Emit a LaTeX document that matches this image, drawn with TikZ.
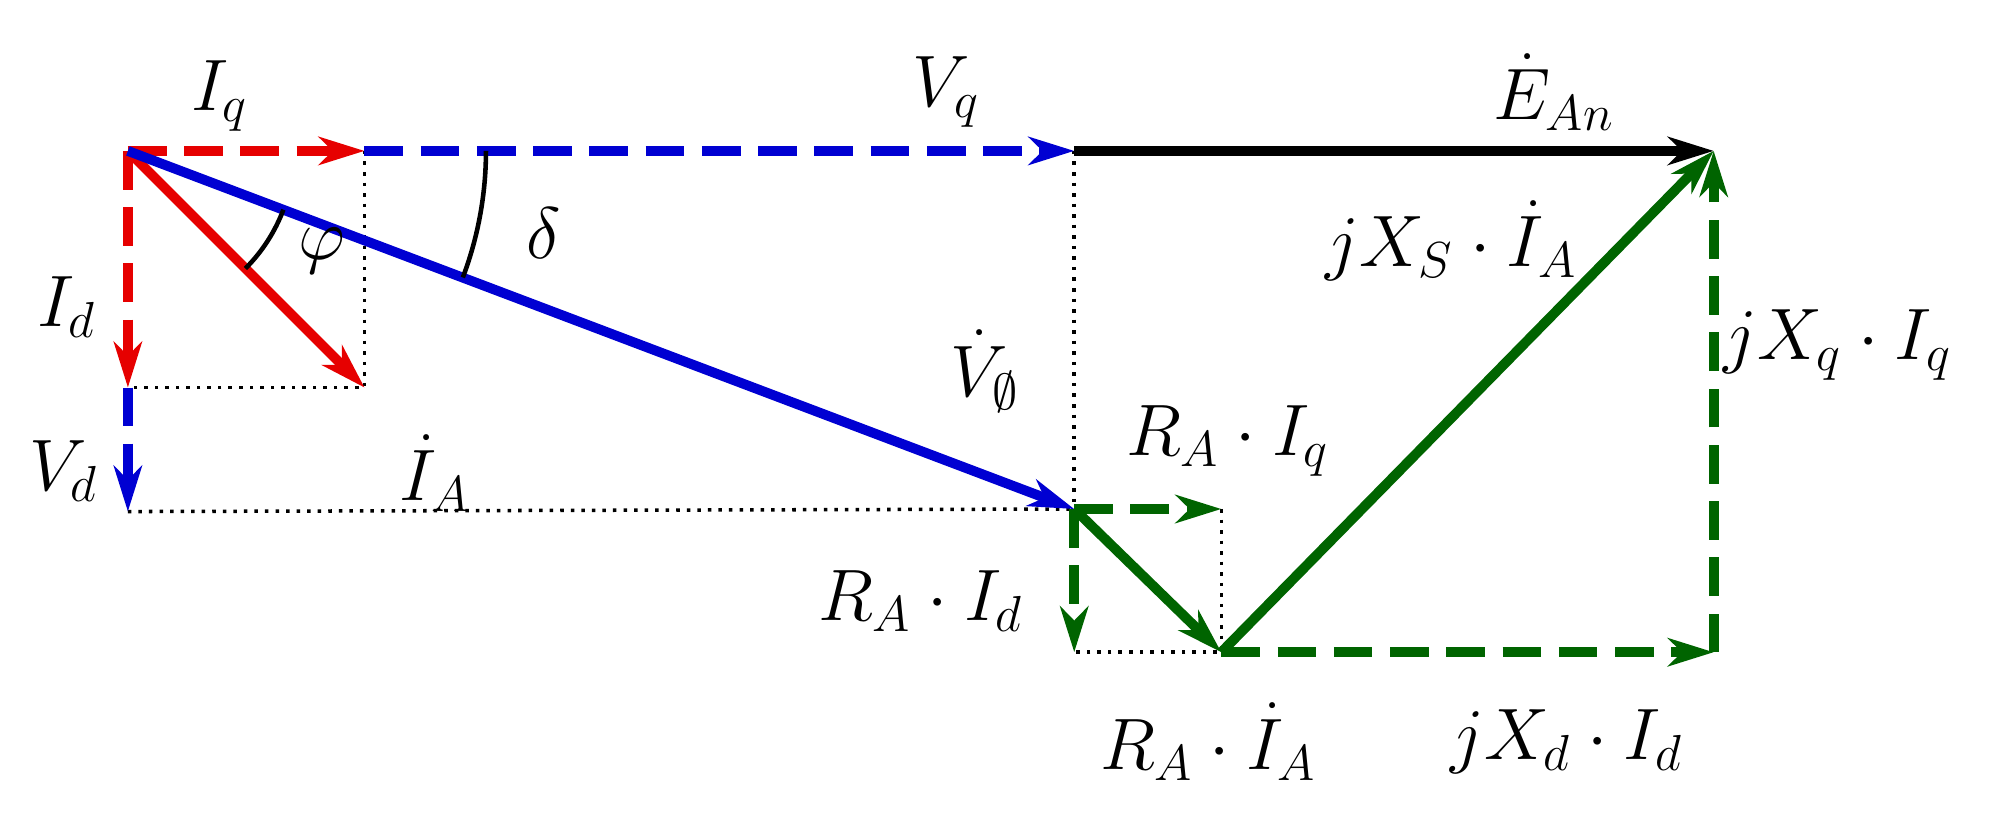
\documentclass[tikz,border=0pt]{standalone}
\usetikzlibrary{arrows.meta,calc}
\definecolor{cred}{RGB}{230,0,0}
\definecolor{cblue}{RGB}{0,0,210}
\definecolor{cgreen}{RGB}{0,100,0}
\tikzset{vec/.style={line width=2.8pt,-{Stealth[length=13pt,width=8pt,inset=4pt]}},
dvec/.style={vec,dash pattern=on 11pt off 5pt},
dot/.style={dotted,line width=1pt},
lbl/.style={font=\fontsize{21.5}{25}\selectfont}}
\begin{document}
\begin{tikzpicture}[x=0.01279cm,y=-0.01279cm]
\useasboundingbox (0,0) rectangle (1560,638);
\coordinate (O) at (100,118);
\coordinate (Iq) at (285,118);
\coordinate (Vq) at (840,118);
\coordinate (E) at (1340,118);
\coordinate (Id) at (100,303);
\coordinate (Vd) at (100,400);
\coordinate (IA) at (285,303);
\coordinate (V) at (840,398);
\coordinate (RIq) at (955,398);
\coordinate (RId) at (840,510);
\coordinate (RIA) at (955,510);
\coordinate (XdId) at (1340,510);
% dotted
\draw[dot] (Iq)--(IA)--(Id);
\draw[dot] (Vd)--(V);
\draw[dot] (Vq)--(V);
\draw[dot] (RIq)--(RIA)--(RId);
% vectors
\draw[dvec,cblue] (Iq)--(Vq);
\draw[dvec,cblue] (Id)--(Vd);
\draw[dvec,cred] (O)--(Iq);
\draw[dvec,cred] (O)--(Id);
\draw[vec,cred] (O)--(IA);
\draw[vec,cblue] (O)--(V);
\draw[vec,black] (Vq)--(E);
\draw[dvec,cgreen] (V)--(RIq);
\draw[dvec,cgreen] (V)--(RId);
\draw[vec,cgreen] (V)--(RIA);
\draw[dvec,cgreen] (RIA)--(XdId);
\draw[dvec,cgreen] (XdId)--(E);
\draw[vec,cgreen] (RIA)--(E);
% angles
\draw[line width=1.3pt] ($(O)+(45:130)$) arc[start angle=45,end angle=20.7,radius=130];
\draw[line width=1.3pt] ($(O)+(0:280)$) arc[start angle=0,end angle=20.7,radius=280];
% labels
\node[lbl] (tIq) at (172,75) {$I_q$};
\node[lbl] (tVq) at (740,72) {$V_q$};
\node[lbl] (tE) at (1215,72) {$\dot E_{An}$};
\node[lbl] (tId) at (52,240) {$I_d$};
\node[lbl] (tVd) at (50,368) {$V_d$};
\node[lbl] (tphi) at (252,196) {$\varphi$};
\node[lbl] (tdelta) at (425,182) {$\delta$};
\node[lbl] (tXs) at (1135,188) {$jX_S\cdot \dot I_A$};
\node[lbl] (tXq) at (1437,270) {$jX_q\cdot I_q$};
\node[lbl] (tV) at (770,290) {$\dot V_{\emptyset}$};
\node[lbl] (tRIq) at (960,345) {$R_A\cdot I_q$};
\node[lbl] (tIA) at (340,370) {$\dot I_A$};
\node[lbl] (tRId) at (720,470) {$R_A\cdot I_d$};
\node[lbl] (tRIA) at (945,580) {$R_A\cdot \dot I_A$};
\node[lbl] (tXdId) at (1225,580) {$jX_d\cdot I_d$};
\end{tikzpicture}
\end{document}
